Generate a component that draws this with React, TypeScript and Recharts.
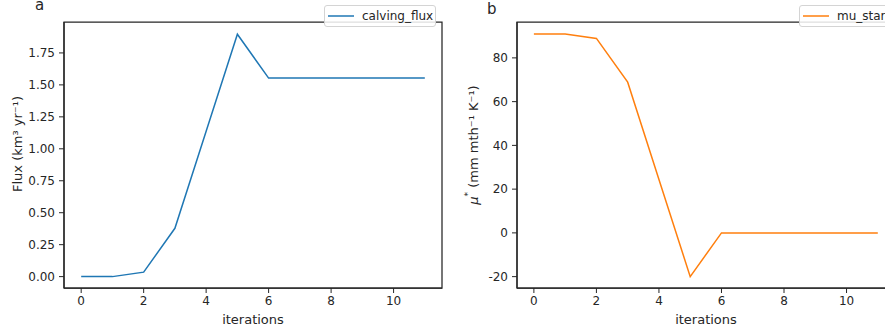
import { LineChart, Line, XAxis, YAxis, Legend, ReferenceArea } from 'recharts'

const iterations = [0, 1, 2, 3, 4, 5, 6, 7, 8, 9, 10, 11]
const calvingFlux = [0, 0, 0.035, 0.378, 1.137, 1.896, 1.553, 1.553, 1.553, 1.553, 1.553, 1.553]
const muStar = [90.9, 90.9, 88.9, 68.9, 24.4, -20.0, 0, 0, 0, 0, 0, 0]

const xTicks = [0, 2, 4, 6, 8, 10]
const fluxTicks = [0, 0.25, 0.5, 0.75, 1.0, 1.25, 1.5, 1.75]
const muTicks = [-20, 0, 20, 40, 60, 80]

const xDomainA: [number, number] = [-0.55, 11.55]
const xDomainB: [number, number] = [-0.54, 11.55]
const fluxDomain: [number, number] = [-0.089, 1.992]
const muDomain: [number, number] = [-25.2, 96.4]

const INK = '#262626'
const FONT = 'DejaVu Sans, sans-serif'

const fluxData = iterations.map((it, i) => ({ it, v: calvingFlux[i] }))
const muData = iterations.map((it, i) => ({ it, v: muStar[i] }))

function LegendBox({ color, label, width }: { color: string; label: string; width: number }) {
  return (
    <div
      style={{
        position: 'relative',
        width,
        height: 22,
        boxSizing: 'border-box',
        border: '1px solid #d4d4d4',
        borderRadius: 3,
        background: 'rgba(255,255,255,0.85)',
        fontFamily: FONT,
        fontSize: 12,
        color: INK,
      }}
    >
      <svg width={30} height={20} style={{ position: 'absolute', left: 0, top: 0 }}>
        <line x1={3} x2={29} y1={10} y2={10} stroke={color} strokeWidth={1.5} />
      </svg>
      <span style={{ position: 'absolute', left: 37, top: 3, lineHeight: '14px' }}>{label}</span>
    </div>
  )
}

const tickStyle = { fontSize: 12, fill: INK, fontFamily: FONT }
const axisLine = { stroke: INK, strokeWidth: 1.25 }
const tickLine = { stroke: INK, strokeWidth: 1 }

export default function App() {
  return (
    <div
      style={{
        position: 'fixed',
        left: 0,
        top: 0,
        width: 885,
        height: 335,
        overflow: 'hidden',
        background: '#fff',
        fontFamily: FONT,
      }}
    >
      {/* panel a */}
      <div style={{ position: 'absolute', left: 0, top: 0 }}>
        <LineChart width={450} height={335} data={fluxData} margin={{ top: 0, right: 8, bottom: 0, left: 0 }}>
          <XAxis
            dataKey="it"
            type="number"
            domain={xDomainA}
            ticks={xTicks}
            tick={tickStyle}
            tickSize={5}
            tickMargin={3}
            axisLine={axisLine}
            tickLine={tickLine}
            height={47}
            label={{ value: 'iterations', position: 'insideBottom', offset: 11, fontSize: 13, fill: INK }}
          />
          <YAxis
            type="number"
            domain={fluxDomain}
            ticks={fluxTicks}
            tickFormatter={(v: number) => v.toFixed(2)}
            tick={tickStyle}
            tickSize={5}
            tickMargin={4}
            axisLine={axisLine}
            tickLine={tickLine}
            width={64}
            label={() => (
              <text
                x={17}
                y={144}
                transform="rotate(-90 17 144)"
                textAnchor="middle"
                dominantBaseline="central"
                fontSize={13}
                fill={INK}
                fontFamily={FONT}
              >
                Flux (km³ yr⁻¹)
              </text>
            )}
          />
          <ReferenceArea
            x1={xDomainA[0]}
            x2={xDomainA[1]}
            y1={fluxDomain[0]}
            y2={fluxDomain[1]}
            fill="none"
            stroke={INK}
            strokeWidth={1.25}
            ifOverflow="visible"
          />
          <Legend
            verticalAlign="top"
            wrapperStyle={{ position: 'absolute', left: 324, top: 5, width: 112 }}
            content={() => <LegendBox color="#1f77b4" label="calving_flux" width={112} />}
          />
          <Line dataKey="v" name="calving_flux" stroke="#1f77b4" strokeWidth={1.5} dot={false} isAnimationActive={false} />
        </LineChart>
      </div>

      {/* panel b */}
      <div style={{ position: 'absolute', left: 450, top: 0 }}>
        <LineChart width={450} height={335} data={muData} margin={{ top: 0, right: 5, bottom: 0, left: 0 }}>
          <XAxis
            dataKey="it"
            type="number"
            domain={xDomainB}
            ticks={xTicks}
            tick={tickStyle}
            tickSize={5}
            tickMargin={3}
            axisLine={axisLine}
            tickLine={tickLine}
            height={47}
            label={{ value: 'iterations', position: 'insideBottom', offset: 11, fontSize: 13, fill: INK }}
          />
          <YAxis
            type="number"
            domain={muDomain}
            ticks={muTicks}
            tick={tickStyle}
            tickSize={5}
            tickMargin={4}
            axisLine={axisLine}
            tickLine={tickLine}
            width={67}
            label={() => (
              <text
                x={23}
                y={145}
                transform="rotate(-90 23 145)"
                textAnchor="middle"
                dominantBaseline="central"
                fontSize={13}
                fill={INK}
                fontFamily={FONT}
              >
                <tspan fontStyle="italic">μ</tspan>
                <tspan dy={-5} fontSize={9}>*</tspan>
                <tspan dy={5}> (mm mth⁻¹ K⁻¹)</tspan>
              </text>
            )}
          />
          <ReferenceArea
            x1={xDomainB[0]}
            x2={xDomainB[1]}
            y1={muDomain[0]}
            y2={muDomain[1]}
            fill="none"
            stroke={INK}
            strokeWidth={1.25}
            ifOverflow="visible"
          />
          <Legend
            verticalAlign="top"
            wrapperStyle={{ position: 'absolute', left: 349, top: 5, width: 100 }}
            content={() => <LegendBox color="#ff7f0e" label="mu_star" width={100} />}
          />
          <Line dataKey="v" name="mu_star" stroke="#ff7f0e" strokeWidth={1.5} dot={false} isAnimationActive={false} />
        </LineChart>
      </div>

      {/* panel letters */}
      <div style={{ position: 'absolute', left: 35, top: -1, fontSize: 15, lineHeight: '13px', color: INK, pointerEvents: 'none' }}>a</div>
      <div style={{ position: 'absolute', left: 487, top: 3, fontSize: 15, lineHeight: '13px', color: INK, pointerEvents: 'none' }}>b</div>
    </div>
  )
}
